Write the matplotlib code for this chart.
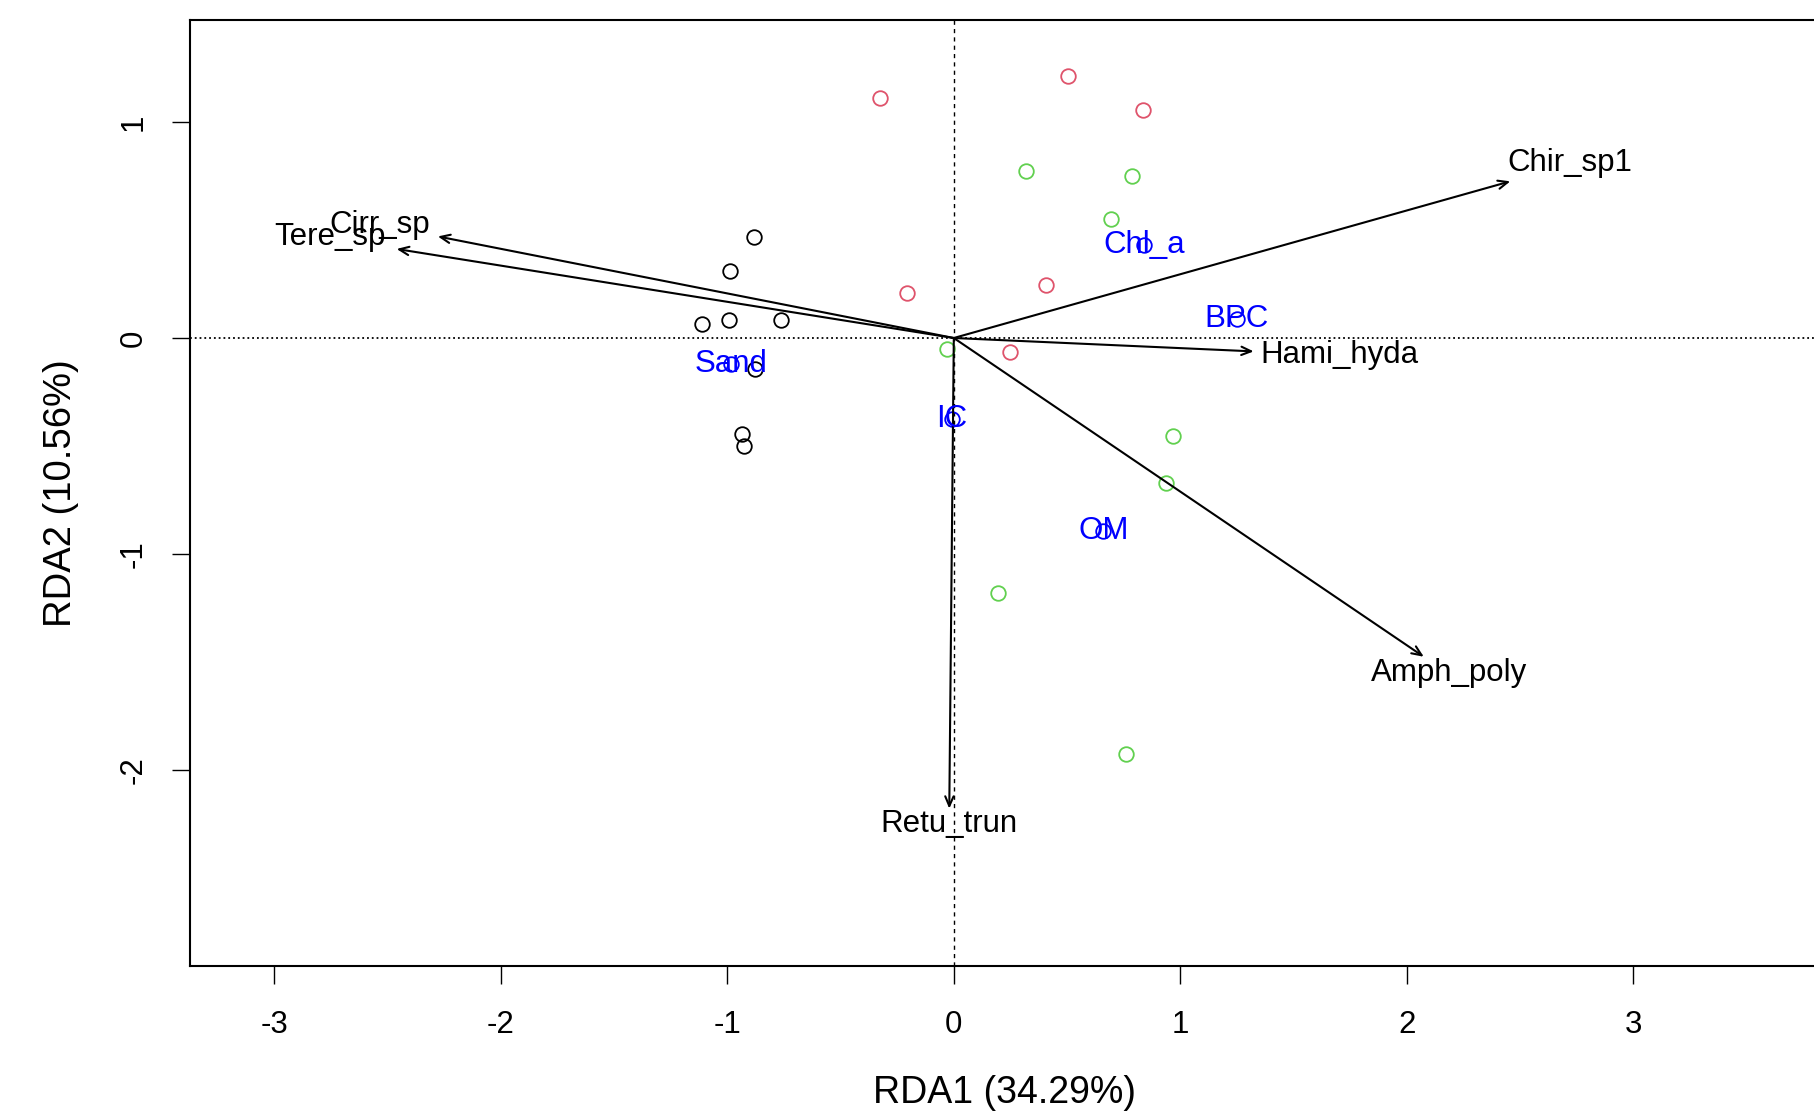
import matplotlib.pyplot as plt

# site scores (three groups)
black_x = [-0.882, -0.988, -1.110, -0.991, -0.763, -0.877, -0.935, -0.927]
black_y = [0.466, 0.309, 0.065, 0.082, 0.082, -0.143, -0.443, -0.501]
red_x = [-0.327, 0.505, 0.837, -0.206, 0.407, 0.250]
red_y = [1.111, 1.214, 1.057, 0.208, 0.244, -0.066]
green_x = [0.317, 0.788, 0.693, -0.028, 0.968, 0.935, 0.193, 0.760]
green_y = [0.774, 0.751, 0.552, -0.051, -0.455, -0.670, -1.178, -1.927]

# species arrows
species = ["Chir_sp1", "Hami_hyda", "Amph_poly", "Retu_trun", "Cirr_sp", "Tere_sp"]
sp_x = [2.457, 1.324, 2.075, -0.020, -2.278, -2.460]
sp_y = [0.725, -0.062, -1.475, -2.178, 0.470, 0.412]
sp_lab_x = [2.718, 1.702, 2.187, -0.020, -2.535, -2.754]
sp_lab_y = [0.809, -0.080, -1.548, -2.249, 0.525, 0.466]

# environmental variables
env = ["Chl_a", "BPC", "OM", "Sand", "IC"]
env_x = [0.840, 1.250, 0.660, -0.985, -0.010]
env_y = [0.430, 0.090, -0.894, -0.122, -0.375]

x_ticks = [-3, -2, -1, 0, 1, 2, 3]
y_ticks = [-2, -1, 0, 1]

plt.rcParams["font.family"] = ["Liberation Sans", "DejaVu Sans"]

fig = plt.figure(figsize=(18.15, 11.11), dpi=100)
# the plot box runs past the right edge of the picture, as in the original
ax = fig.add_axes([0.1047, 0.1305, 0.92, 0.8515])
ax.set_xlim(-3.372, 4.0)
ax.set_ylim(-2.906, 1.4715)

ax.axhline(0, color="black", linestyle=":", linewidth=1.3)
ax.axvline(0, color="black", linestyle=(0, (3, 3)), linewidth=1.0)

ms = 10.5
ax.plot(black_x, black_y, "o", mfc="none", mec="black", ms=ms, mew=1.3)
ax.plot(red_x, red_y, "o", mfc="none", mec="#DF536B", ms=ms, mew=1.3)
ax.plot(green_x, green_y, "o", mfc="none", mec="#61D04F", ms=ms, mew=1.3)

for name, x, y, lx, ly in zip(species, sp_x, sp_y, sp_lab_x, sp_lab_y):
    ax.annotate("", xy=(x, y), xytext=(0, 0),
                arrowprops=dict(arrowstyle="->,head_length=0.7,head_width=0.3",
                                color="black", lw=1.5, shrinkA=0, shrinkB=0))
    ax.text(lx, ly, name, fontsize=22.5, ha="center", va="center", color="black")

ax.plot(env_x, env_y, "o", mfc="none", mec="blue", ms=ms, mew=1.3)
for name, x, y in zip(env, env_x, env_y):
    ax.text(x, y, name, fontsize=22.5, ha="center", va="center", color="blue")

ax.set_xticks(x_ticks)
ax.set_yticks(y_ticks)
ax.set_xticklabels([str(t) for t in x_ticks])
ax.set_yticklabels([str(t) for t in y_ticks], rotation=90, va="center")
ax.tick_params(axis="both", length=13, width=1.0, labelsize=22.5, direction="out")
ax.tick_params(axis="x", pad=19)
ax.tick_params(axis="y", pad=17)

for s in ax.spines.values():
    s.set_linewidth(1.5)

ax.set_xlabel("RDA1 (34.29%)", fontsize=27, labelpad=25)
ax.xaxis.label.set_x(0.488)
ax.set_ylabel("RDA2 (10.56%)", fontsize=27.5, labelpad=28)

fig.savefig("out.png", dpi=100, facecolor="white")
